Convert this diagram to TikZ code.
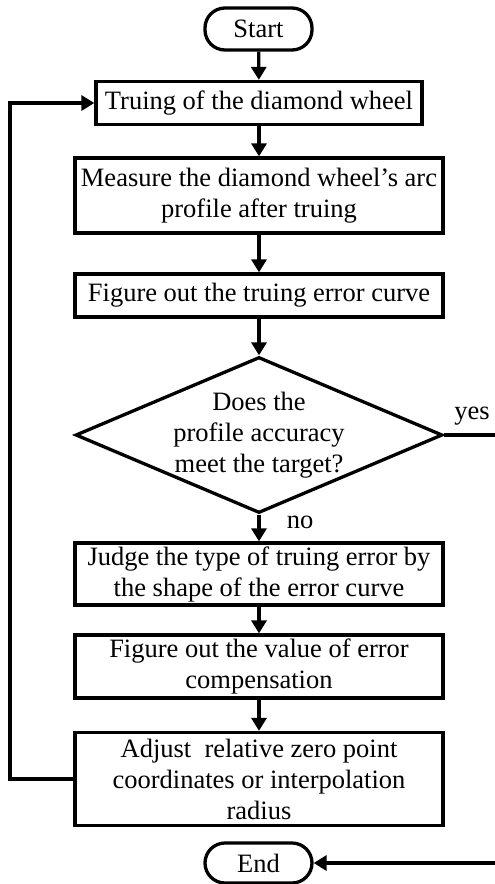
\documentclass[tikz,border=0pt]{standalone}
\usepackage{fontspec}
\setmainfont{Liberation Serif}
\usetikzlibrary{arrows.meta,shapes.geometric}

\begin{document}
\begin{tikzpicture}[x=1pt,y=-1pt,line width=3.3pt,>={Triangle[length=13pt,width=15pt]},
  txt/.style={font=\fontsize{26.5}{31}\selectfont},
  box/.style={txt,draw,rectangle,inner sep=2pt,align=center},
  term/.style={txt,draw,rectangle,rounded corners=20pt,minimum width=107pt,inner sep=0pt},
  decision/.style={draw,diamond,minimum width=367pt,minimum height=156pt,inner sep=0pt},
  tag/.style={txt,inner sep=0pt}]
  \useasboundingbox (0,0) rectangle (495,884);
  \node[term,minimum height=42pt] (start) at (258.5,29) {Start};
  \node[box,minimum width=326pt,minimum height=43pt] (b1) at (259,103) {Truing of the diamond wheel};
  \node[box,minimum width=368pt,minimum height=75pt] (b2) at (259,195.5) {Measure the diamond wheel’s arc\\profile after truing};
  \node[box,minimum width=368pt,minimum height=43pt] (b3) at (259,295.5) {Figure out the truing error curve};
  \node[decision,label={[tag,align=center]center:{Does the\\profile accuracy\\meet the target?}}] (d) at (259,435) {};
  \node[box,minimum width=368pt,minimum height=62pt] (b4) at (259,574) {Judge the type of truing error by\\the shape of the error curve};
  \node[box,minimum width=368pt,minimum height=63pt] (b5) at (259,666.5) {Figure out the value of error\\compensation};
  \node[box,minimum width=368pt,minimum height=93pt] (b6) at (259,779) {Adjust\ \ relative zero point\\coordinates or interpolation\\radius};
  \node[term,minimum height=40pt] (end) at (258.5,863) {End};
  \node[tag] (no) at (300,522) {no};
  \node[tag] (yes) at (472,416) {yes};
  \coordinate (loopx) at (10,0);
  \coordinate (rimx) at (498,0);
  \draw[->] (start) -- (b1);
  \draw[->] (b1) -- (b2);
  \draw[->] (b2) -- (b3);
  \draw[->] (b3) -- (d);
  \draw[->] (d) -- (b4);
  \draw[->] (b4) -- (b5);
  \draw[->] (b5) -- (b6);
  \draw[->] (b6.west) -- (b6.west -| loopx) |- (b1.west);
  \draw[->] (d.east) -- (d.east -| rimx) |- (end.east);
\end{tikzpicture}
\end{document}
